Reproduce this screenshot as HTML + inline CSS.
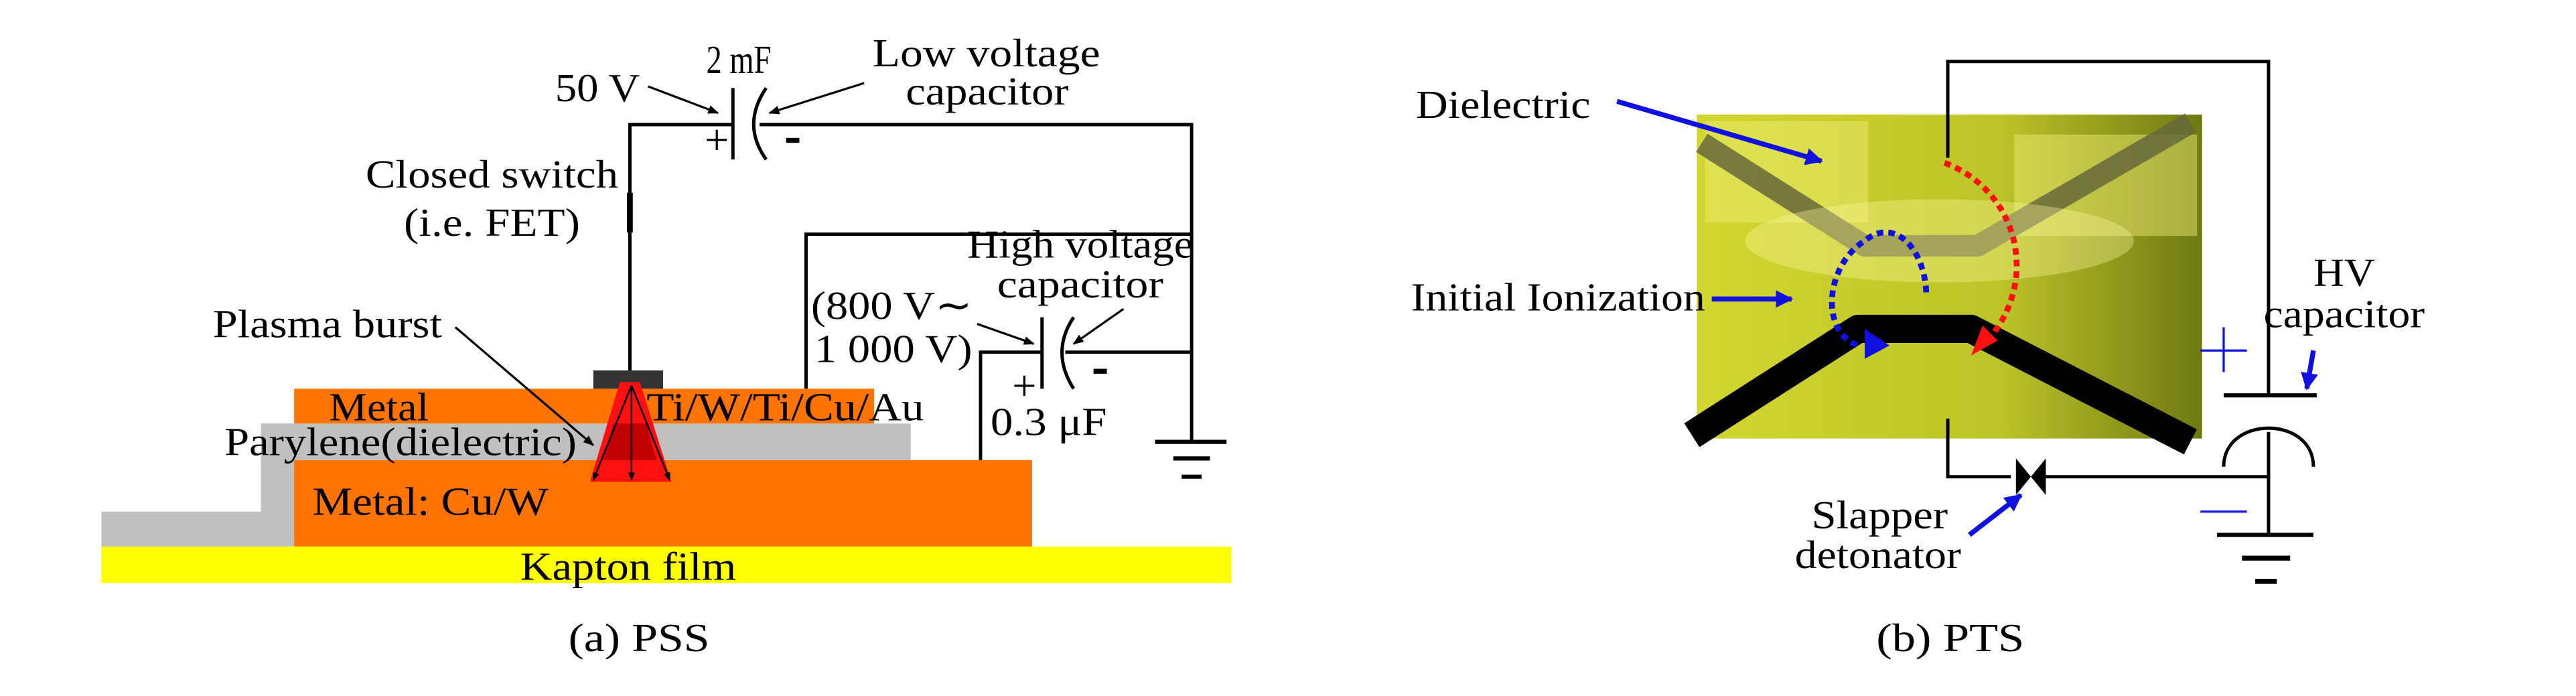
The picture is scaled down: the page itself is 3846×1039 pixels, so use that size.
<!DOCTYPE html>
<html><head><meta charset="utf-8"><style>html,body{margin:0;padding:0;background:#fff}svg{display:block}text{font-family:"Liberation Serif",serif}</style></head>
<body>
<svg width="3846" height="1039" viewBox="0 0 1550 419" preserveAspectRatio="none" xmlns="http://www.w3.org/2000/svg" font-size="24">
<defs>
<marker id="ab" viewBox="0 0 10 10" refX="9" refY="5" markerWidth="5" markerHeight="5" orient="auto"><path d="M0,1 L10,5 L0,9 z" fill="#000"/></marker>
<marker id="abl" viewBox="0 0 10 10" refX="9" refY="5" markerWidth="3.5" markerHeight="3.5" orient="auto"><path d="M0,0 L10,5 L0,10 z" fill="#1010e0"/></marker>
<linearGradient id="ph" x1="0" y1="0" x2="1" y2="0"><stop offset="0" stop-color="#d2d630"/><stop offset="0.6" stop-color="#bcc428"/><stop offset="1" stop-color="#6e7a12"/></linearGradient>
</defs>
<!-- LEFT PANEL -->
<rect x="61" y="308" width="120" height="23" fill="#c0c0c0"/>
<rect x="157" y="255" width="24" height="60" fill="#c0c0c0"/>
<rect x="157" y="255" width="391" height="22" fill="#c0c0c0"/>
<rect x="177" y="234" width="349" height="21" fill="#ff7400"/>
<rect x="177" y="277" width="444" height="52" fill="#ff7400"/>
<rect x="61" y="329" width="680" height="22" fill="#ffff00"/>
<rect x="357" y="223" width="42" height="11" fill="#333"/>
<polygon points="373,230 385,230 404,290 355,290" fill="#ff1010"/>
<polygon points="369,255 389,255 395,277 363,277" fill="#c00000"/>
<g stroke="#000" stroke-width="1">
<line x1="380" y1="232" x2="357" y2="289" marker-end="url(#ab)"/>
<line x1="380" y1="232" x2="380" y2="289" marker-end="url(#ab)"/>
<line x1="380" y1="232" x2="403" y2="289" marker-end="url(#ab)"/>
</g>
<g stroke="#000" stroke-width="2" fill="none">
<polyline points="379,223 379,75 441,75"/>
<polyline points="457,75 717,75 717,266"/>
<polyline points="485,234 485,141 717,141"/>
<polyline points="590,277 590,212 627,212"/>
<line x1="641" y1="212" x2="717" y2="212"/>
<line x1="441" y1="53" x2="441" y2="96"/>
<path d="M461,53 Q446,75 461,96"/>
<line x1="627" y1="191" x2="627" y2="234"/>
<path d="M646,191 Q632,212 646,234"/>
<line x1="695" y1="266" x2="738" y2="266" stroke-width="2.5"/>
<line x1="706" y1="276" x2="728" y2="276" stroke-width="2.5"/>
<line x1="711" y1="287" x2="723" y2="287" stroke-width="2.5"/>
</g>
<line x1="379" y1="116" x2="379" y2="140" stroke="#000" stroke-width="3.5"/>
<g stroke="#000" stroke-width="1.3">
<line x1="390" y1="52" x2="432" y2="68" marker-end="url(#ab)"/>
<line x1="520" y1="50" x2="463" y2="68" marker-end="url(#ab)"/>
<line x1="274" y1="197" x2="357" y2="268" marker-end="url(#ab)"/>
<line x1="588" y1="195" x2="622" y2="207" marker-end="url(#ab)"/>
<line x1="676" y1="186" x2="646" y2="207" marker-end="url(#ab)"/>
</g>
<g fill="#000" lengthAdjust="spacingAndGlyphs">
<text x="424" y="93" font-size="26">+</text>
<rect x="473" y="83" width="8" height="3"/>
<text x="609" y="241" font-size="26">+</text>
<rect x="658" y="222" width="8" height="3"/>
<text x="334" y="61" textLength="51" lengthAdjust="spacingAndGlyphs">50 V</text>
<text x="425" y="44" textLength="39" lengthAdjust="spacingAndGlyphs">2 mF</text>
<text x="525" y="40" textLength="137" lengthAdjust="spacingAndGlyphs">Low voltage</text>
<text x="545" y="63" textLength="98" lengthAdjust="spacingAndGlyphs">capacitor</text>
<text x="220" y="113" textLength="152" lengthAdjust="spacingAndGlyphs">Closed switch</text>
<text x="243" y="142" textLength="106" lengthAdjust="spacingAndGlyphs">(i.e. FET)</text>
<text x="582" y="155" textLength="136" lengthAdjust="spacingAndGlyphs">High voltage</text>
<text x="600" y="179" textLength="100" lengthAdjust="spacingAndGlyphs">capacitor</text>
<text x="488" y="192" textLength="97" lengthAdjust="spacingAndGlyphs">(800 V∼</text>
<text x="490" y="218" textLength="95" lengthAdjust="spacingAndGlyphs">1 000 V)</text>
<text x="596" y="262" textLength="70" lengthAdjust="spacingAndGlyphs">0.3 μF</text>
<text x="128" y="203" textLength="138" lengthAdjust="spacingAndGlyphs">Plasma burst</text>
<text x="198" y="253" textLength="60" lengthAdjust="spacingAndGlyphs">Metal</text>
<text x="389" y="253" textLength="167" lengthAdjust="spacingAndGlyphs">Ti/W/Ti/Cu/Au</text>
<text x="135" y="274" textLength="212" lengthAdjust="spacingAndGlyphs">Parylene(dielectric)</text>
<text x="188" y="310" textLength="142" lengthAdjust="spacingAndGlyphs">Metal: Cu/W</text>
<text x="313" y="349" textLength="130" lengthAdjust="spacingAndGlyphs">Kapton film</text>
<text x="342" y="392" textLength="85" lengthAdjust="spacingAndGlyphs">(a)  PSS</text>
</g>
<!-- RIGHT PANEL -->
<rect x="1021" y="69" width="304" height="195" fill="url(#ph)"/>
<rect x="1026" y="73" width="98" height="61" fill="#f2f07a" opacity="0.45"/>
<rect x="1212" y="81" width="110" height="61" fill="#f2f07a" opacity="0.45"/>
<polyline points="1024,86 1122,148 1190,148 1318,74" fill="none" stroke="#66683a" stroke-width="13" stroke-linejoin="round" opacity="0.85"/>
<ellipse cx="1167" cy="145" rx="117" ry="25" fill="#fffaa0" opacity="0.35"/>
<polyline points="1018,262 1118,198 1186,198 1318,266" fill="none" stroke="#000" stroke-width="17" stroke-linejoin="round"/>
<path d="M1170,98 C1215,115 1228,170 1195,206" fill="none" stroke="#ff1010" stroke-width="3.5" stroke-dasharray="4,3"/>
<polygon points="1186,214 1193,196 1202,205" fill="#ff1010"/>
<path d="M1159,176 C1158,150 1140,130 1122,145 C1098,160 1095,200 1118,208" fill="none" stroke="#1010e0" stroke-width="3.5" stroke-dasharray="4,3"/>
<polygon points="1137,208 1122,198 1122,216" fill="#1010e0"/>
<g stroke="#000" stroke-width="2" fill="none">
<polyline points="1172,95 1172,37 1365,37 1365,238"/>
<polyline points="1172,252 1172,287 1210,287"/>
<line x1="1230" y1="287" x2="1365" y2="287"/>
<line x1="1365" y1="260" x2="1365" y2="322"/>
<path d="M1338,281 C1338,250 1392,250 1392,281"/>
<line x1="1338" y1="238" x2="1394" y2="238" stroke-width="2.5"/>
<line x1="1334" y1="322" x2="1392" y2="322" stroke-width="2.5"/>
<line x1="1349" y1="336" x2="1378" y2="336" stroke-width="3"/>
<line x1="1357" y1="350" x2="1370" y2="350" stroke-width="3"/>
</g>
<polygon points="1213,276 1222,287 1213,298" fill="#000"/>
<polygon points="1231,276 1222,287 1231,298" fill="#000"/>
<g stroke="#1010e0" stroke-width="1.3">
<line x1="1324" y1="211" x2="1352" y2="211"/>
<line x1="1338" y1="197" x2="1338" y2="224"/>
<line x1="1324" y1="308" x2="1352" y2="308"/>
</g>
<g stroke="#1010e0" stroke-width="3">
<line x1="973" y1="61" x2="1096" y2="97" marker-end="url(#abl)"/>
<line x1="1030" y1="180" x2="1078" y2="180" marker-end="url(#abl)"/>
<line x1="1392" y1="211" x2="1388" y2="234" marker-end="url(#abl)"/>
<line x1="1185" y1="322" x2="1216" y2="298" marker-end="url(#abl)"/>
</g>
<g fill="#000">
<text x="852" y="71" textLength="105" lengthAdjust="spacingAndGlyphs">Dielectric</text>
<text x="849" y="187" textLength="177" lengthAdjust="spacingAndGlyphs">Initial Ionization</text>
<text x="1392" y="172" textLength="37" lengthAdjust="spacingAndGlyphs">HV</text>
<text x="1362" y="197" textLength="97" lengthAdjust="spacingAndGlyphs">capacitor</text>
<text x="1090" y="318" textLength="82" lengthAdjust="spacingAndGlyphs">Slapper</text>
<text x="1080" y="342" textLength="100" lengthAdjust="spacingAndGlyphs">detonator</text>
<text x="1129" y="392" textLength="89" lengthAdjust="spacingAndGlyphs">(b)  PTS</text>
</g>
</svg>
</body></html>
